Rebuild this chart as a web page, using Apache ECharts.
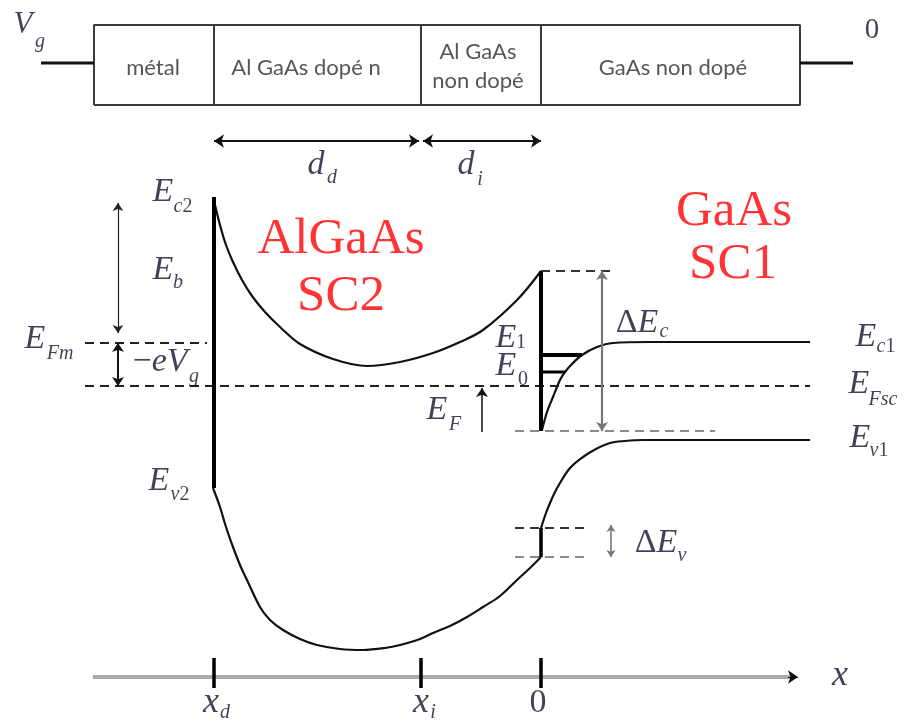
<!DOCTYPE html>
<html><head><meta charset="utf-8">
<script src="https://cdn.jsdelivr.net/npm/echarts@6/dist/echarts.min.js"></script>
<style>html,body{margin:0;padding:0;background:#fff}#c{width:911px;height:721px}</style>
</head><body><div id="c"></div>
<script>
// ---- positions (junction at x = 0) ----
const xd = -3.27, xi = -1.20, x0 = 0;
const boxX = [-4.47, -3.27, -1.20, 0, 2.59];
const boxY = [2.81, 3.61];
const leadY = 3.23, leadLeft = -5.00, leadRight = 3.12;
const arrowDY = 2.45;
// ---- energy levels ----
const EFm = 0.43, EF = 0, Ec2 = 1.89, Ev2 = -1.02;
const EcTop = 1.15, EcBot = -0.45, EvTop = -1.42, EvBot = -1.71;
const E1 = 0.31, E0 = 0.14;
const E1end = 0.41, E0end = 0.24;
const levelLeft = -4.56, levelRight = 2.69;
// ---- bands ----
const cbAlGaAs = [[-3.26,1.81],[-3.21,1.61],[-3.15,1.41],[-3.08,1.24],[-2.99,1.06],[-2.89,0.90],[-2.76,0.74],[-2.61,0.59],[-2.41,0.42],[-2.08,0.27],[-1.74,0.20],[-1.41,0.24],[-1.08,0.33],[-0.81,0.44],[-0.58,0.56],[-0.24,0.86],[0,1.15]];
const cbGaAs = [[0.01,-0.44],[0.06,-0.26],[0.12,-0.11],[0.19,0.06],[0.24,0.14],[0.31,0.22],[0.41,0.31],[0.56,0.39],[0.72,0.43],[1.09,0.44],[2.69,0.44]];
const vbAlGaAs = [[-3.28,-1.02],[-3.21,-1.21],[-3.15,-1.41],[-3.08,-1.61],[-3.01,-1.79],[-2.94,-1.94],[-2.81,-2.21],[-2.71,-2.34],[-2.58,-2.44],[-2.41,-2.53],[-2.24,-2.59],[-2.01,-2.63],[-1.78,-2.64],[-1.56,-2.62],[-1.41,-2.59],[-1.21,-2.53],[-1.08,-2.47],[-0.91,-2.40],[-0.74,-2.31],[-0.58,-2.21],[-0.41,-2.10],[-0.24,-1.94],[-0.11,-1.82],[0,-1.71]];
const vbGaAs = [[0,-1.42],[0.05,-1.27],[0.09,-1.17],[0.14,-1.06],[0.19,-0.97],[0.29,-0.82],[0.42,-0.71],[0.55,-0.63],[0.69,-0.57],[0.84,-0.55],[1.02,-0.54],[2.69,-0.54]];
// ---- axis ----
const axisY = -2.91, axisStart = -4.48, axisEnd = 2.57;
const tickX = [xd, xi, x0];
const tickTop = -2.72, tickBot = -3.02;
// ---- texts ----
const layerNames = ['métal', 'Al GaAs dopé n', 'Al GaAs\nnon dopé', 'GaAs non dopé'];
const layerPos = [[-3.88,3.18],[-2.35,3.18],[-0.63,3.20],[1.32,3.18]];
const redTexts = [['AlGaAs',-2.00,1.46],['SC2',-2.00,0.89],['GaAs',1.93,1.74],['SC1',1.92,1.21]];
const mathTexts = [
  ['{V|V}',-5.18,3.61],['{i|g}',-5.01,3.44],
  ['{Z|0}',3.31,3.56],
  ['{I|d}',-2.25,2.21],['{i|d}',-2.09,2.08],
  ['{I|d}',-0.75,2.21],['{i|i}',-0.61,2.06],
  ['{I|E}',-3.78,1.94],['{i|c}{u|2}',-3.58,1.79],
  ['{I|E}',-3.78,1.16],['{i|b}',-3.63,1.03],
  ['{I|E}',-5.06,0.47],['{i|Fm}',-4.81,0.32],
  ['{U|−}{I|eV}',-3.81,0.24],['{i|g}',-3.47,0.09],
  ['{I|E}',-3.82,-0.95],['{i|v}{u|2}',-3.61,-1.09],
  ['{U|Δ}{I|E}',0.96,0.63],['{i|c}',1.23,0.54],
  ['{I|E}',-0.35,0.48],['{u|1}',-0.20,0.43],
  ['{I|E}',-0.35,0.20],['{u|0}',-0.18,0.06],
  ['{I|E}',-1.04,-0.24],['{i|F}',-0.86,-0.39],
  ['{I|E}',3.25,0.49],['{i|c}{u|1}',3.45,0.39],
  ['{I|E}',3.18,0.02],['{i|Fsc}',3.42,-0.14],
  ['{I|E}',3.19,-0.52],['{i|v}{u|1}',3.38,-0.65],
  ['{U|Δ}{I|E}',1.15,-1.57],['{i|v}',1.41,-1.70],
  ['{X|x}',2.99,-2.90],
  ['{X|x}',-3.30,-3.17],['{i|d}',-3.16,-3.27],
  ['{X|x}',-1.20,-3.17],['{i|i}',-1.08,-3.27],
  ['{U|0}',-0.03,-3.17]
];

const INK = '#12122e';
const SERIF = '"Liberation Serif","Times New Roman",serif';
function path(data, color, width, type, smooth) {
  return {type:'line', data:data, showSymbol:false, symbol:'none', smooth: smooth||false,
    lineStyle:{color:color, width:width, type:type||'solid', cap:'butt'}, silent:true, z:3};
}
function arrow(from, to, color, width, ends, size) {
  return {type:'lines', coordinateSystem:'cartesian2d', polyline:false, silent:true, z:4,
    symbol:ends, symbolSize:size,
    lineStyle:{color:color, width:width, opacity:1, curveness:0},
    data:[{coords:[from,to]}]};
}
const DASH = [9,6];
const series = [];
// box
series.push(path([[boxX[0],boxY[0]],[boxX[4],boxY[0]],[boxX[4],boxY[1]],[boxX[0],boxY[1]],[boxX[0],boxY[0]]], '#3a3a3a', 2));
for (let k = 1; k < 4; k++) series.push(path([[boxX[k],boxY[0]],[boxX[k],boxY[1]]], '#3a3a3a', 2));
series.push(path([[leadLeft,leadY],[boxX[0],leadY]], '#111', 3));
series.push(path([[boxX[4],leadY],[leadRight,leadY]], '#111', 3));
// thickness arrows
series.push(arrow([xd,arrowDY],[xi-0.02,arrowDY],'#111',2,['arrow','arrow'],10));
series.push(arrow([xi+0.02,arrowDY],[x0,arrowDY],'#111',2,['arrow','arrow'],10));
// dashed levels
series.push(path([[levelLeft,EFm],[xd-0.07,EFm]], '#222', 1.8, DASH));
series.push(path([[levelLeft,EF],[levelRight,EF]], '#222', 1.8, DASH));
series.push(path([[x0,EcTop],[0.72,EcTop]], '#333', 1.8, DASH));
series.push(path([[-0.26,EcBot],[1.74,EcBot]], '#8a8a8a', 2, DASH));
series.push(path([[-0.26,EvTop],[0.47,EvTop]], '#333', 1.8, DASH));
series.push(path([[-0.26,EvBot],[0.47,EvBot]], '#8a8a8a', 2, DASH));
// bands
series.push(path(cbAlGaAs, '#111', 2.2, 'solid', 0.35));
series.push(path(vbAlGaAs, '#111', 2.2, 'solid', 0.35));
series.push(path(cbGaAs, '#111', 2.2, 'solid', 0.35));
series.push(path(vbGaAs, '#111', 2.2, 'solid', 0.35));
// thick interfaces
series.push(path([[xd,Ec2],[xd,Ev2]], '#000', 4));
series.push(path([[x0,EcTop],[x0,EcBot]], '#000', 4));
series.push(path([[x0,EvTop],[x0,EvBot]], '#000', 3.5));
// quantum levels
series.push(path([[x0,E1],[E1end,E1]], '#000', 4));
series.push(path([[x0,E0],[E0end,E0]], '#000', 3));
// energy arrows
series.push(arrow([-4.23,1.83],[-4.23,0.53],'#222',1.2,['arrow','arrow'],8));
series.push(arrow([-4.23,EFm],[-4.23,EF],'#111',2,['arrow','arrow'],9));
series.push(arrow([-0.59,-0.46],[-0.59,-0.02],'#111',1.5,['none','arrow'],9));
series.push(arrow([0.61,EcTop],[0.61,EcBot],'#777',2.2,['arrow','arrow'],9));
series.push(arrow([0.70,-1.39],[0.70,-1.71],'#777',1.6,['arrow','arrow'],7));
// x axis
series.push(path([[axisStart,axisY],[axisEnd-0.04,axisY]], '#aaaaaa', 4));
series.push(arrow([axisEnd-0.1,axisY],[axisEnd,axisY],'#111',1,['none','arrow'],10));
tickX.forEach(t => series.push(path([[t,tickTop],[t,tickBot]], '#000', 3.5)));
// layer names
series.push({type:'scatter', symbolSize:1, itemStyle:{color:'rgba(0,0,0,0)'}, silent:true, z:6,
  data: layerNames.map((n,k)=>({value:layerPos[k], name:n})),
  label:{show:true, position:'inside', formatter:p=>p.name, color:'#2a2a2a',
    fontFamily:'Lato, "Liberation Sans", sans-serif', fontSize:22, lineHeight:29, align:'center', verticalAlign:'middle'}});
// red material names
series.push({type:'scatter', symbolSize:1, itemStyle:{color:'rgba(0,0,0,0)'}, silent:true, z:6,
  data: redTexts.map(r=>({value:[r[1],r[2]], name:r[0]})),
  label:{show:true, position:'inside', formatter:p=>p.name, color:'#ff0000',
    fontFamily:SERIF, fontSize:51, align:'center', verticalAlign:'middle'}});
// math labels
const tok = (size, italic) => ({fontFamily:SERIF, fontSize:size, fontStyle: italic?'italic':'normal', color:INK});
series.push({type:'scatter', symbolSize:1, itemStyle:{color:'rgba(0,0,0,0)'}, silent:true, z:6,
  data: mathTexts.map(m=>({value:[m[1],m[2]], name:m[0]})),
  label:{show:true, position:'inside', formatter:p=>p.name, align:'center', verticalAlign:'middle',
    rich:{I:tok(34,true), U:tok(34,false), i:tok(20,true), u:tok(20,false), V:tok(31,true), Z:tok(29,false), X:tok(36,true)}}});

const chart = echarts.init(document.getElementById('c'), null, {renderer:'canvas'});
chart.setOption({
  animation:false,
  backgroundColor:'#ffffff',
  grid:{left:0,right:0,top:0,bottom:0},
  xAxis:{type:'value', min:-5.41, max:3.70, show:false},
  yAxis:{type:'value', min:-3.35, max:3.86, show:false},
  series:series
});
</script></body></html>
